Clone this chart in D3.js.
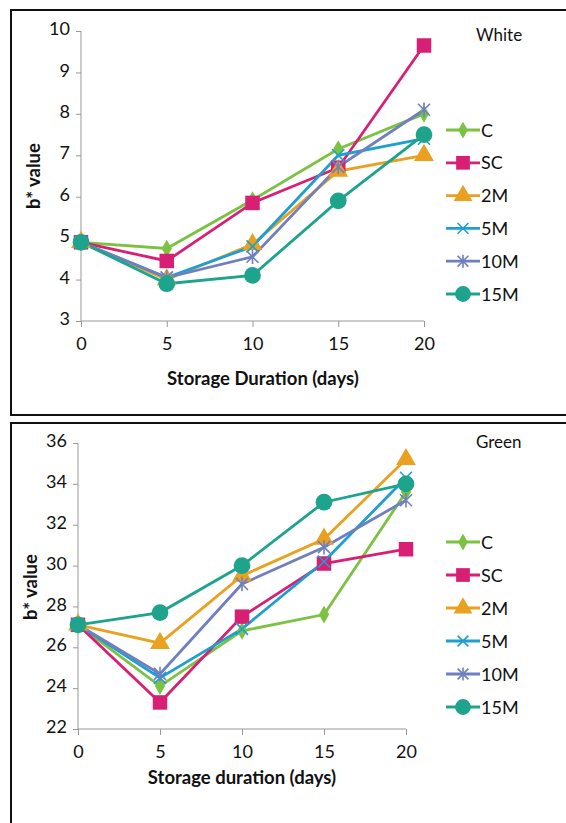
<!DOCTYPE html>
<html>
<head>
<meta charset="utf-8">
<script src="https://cdn.jsdelivr.net/npm/d3@7"></script>
<style>
  body { margin: 0; background: #fff; }
  text { font-family: Lato, "Open Sans", sans-serif; fill: #111; }
</style>
</head>
<body>
<script>
// data
var days = [0, 5, 10, 15, 20];
var seriesNames = ["C", "SC", "2M", "5M", "10M", "15M"];
var seriesColors = ["#7cc242", "#d81f74", "#e9a11f", "#1c9fd1", "#6f7fc0", "#1ea38d"];
var seriesShapes = ["diamond", "square", "triangle", "x", "star", "circle"];

var whiteC   = [4.9, 4.75, 5.92, 7.15, 8.0];
var whiteSC  = [4.9, 4.45, 5.85, 6.7, 9.65];
var white2M  = [4.9, 4.0, 4.85, 6.62, 7.0];
var white5M  = [4.9, 4.05, 4.8, 7.0, 7.4];
var white10M = [4.9, 4.05, 4.55, 6.72, 8.1];
var white15M = [4.9, 3.9, 4.1, 5.9, 7.5];
var whiteTicks = [3, 4, 5, 6, 7, 8, 9, 10];

var greenC   = [27.1, 24.1, 26.8, 27.6, 33.6];
var greenSC  = [27.1, 23.3, 27.5, 30.1, 30.8];
var green2M  = [27.1, 26.2, 29.5, 31.3, 35.2];
var green5M  = [27.1, 24.5, 26.9, 30.2, 34.3];
var green10M = [27.1, 24.7, 29.1, 30.9, 33.2];
var green15M = [27.1, 27.7, 30.0, 33.1, 34.0];
var greenTicks = [22, 24, 26, 28, 30, 32, 34, 36];

var xTicks = [0, 5, 10, 15, 20];

var svg = d3.select("body").append("svg")
            .attr("width", 566)
            .attr("height", 823);

function markerPath(shape, size) {
    if (shape == "x") {
        var s = size * 0.6;
        return "M" + (-s) + "," + (-s) + "L" + s + "," + s + "M" + (-s) + "," + s + "L" + s + "," + (-s);
    }
    if (shape == "star") {
        var s = size * 0.6;
        return "M" + (-s) + "," + (-s) + "L" + s + "," + s + "M" + (-s) + "," + s + "L" + s + "," + (-s) +
               "M0," + (-s * 1.2) + "L0," + (s * 1.2);
    }
    var sym = { diamond: d3.symbolDiamond, square: d3.symbolSquare,
                triangle: d3.symbolTriangle, circle: d3.symbolCircle }[shape];
    var area = { diamond: 90, square: 210, triangle: 170, circle: 220 }[shape];
    return d3.symbol().type(sym).size(area * size / 10)();
}

function drawMarker(g, shape, color, x, y, size) {
    var open = (shape == "x" || shape == "star");
    g.append("path")
     .attr("transform", "translate(" + x + "," + y + ")")
     .attr("d", markerPath(shape, size))
     .attr("fill", open ? "none" : color)
     .attr("stroke", color)
     .attr("stroke-width", open ? 1.6 : 0);
}

function drawPanel(cfg) {
    // frame
    svg.append("rect")
       .attr("x", 11).attr("y", cfg.boxTop)
       .attr("width", 570).attr("height", cfg.boxHeight)
       .attr("fill", "none").attr("stroke", "#111").attr("stroke-width", 2);

    var x = d3.scaleLinear().domain([0, 20]).range([cfg.x0, cfg.x1]);
    var y = d3.scaleLinear().domain(cfg.yDomain).range([cfg.yBottom, cfg.yTop]);

    var g = svg.append("g");

    // axes
    var yAxis = g.append("g")
       .attr("transform", "translate(" + cfg.x0 + ",0)")
       .call(d3.axisLeft(y).tickValues(cfg.yTicks).tickFormat(d3.format("d"))
             .tickSize(5).tickPadding(6));
    var xAxis = g.append("g")
       .attr("transform", "translate(0," + cfg.yBottom + ")")
       .call(d3.axisBottom(x).tickValues(xTicks).tickSize(6).tickPadding(10));
    [xAxis, yAxis].forEach(function(a) {
        a.select(".domain").attr("stroke", "#999");
        a.selectAll(".tick line").attr("stroke", "#999");
        a.selectAll(".tick text").style("font-size", "18px").attr("fill", "#111")
         .style("font-family", "Lato, sans-serif");
    });
    yAxis.selectAll(".tick text").attr("dy", "0.2em");
    yAxis.select(".domain").attr("d", "M0," + cfg.yBottom + "V" + cfg.yTop);
    xAxis.select(".domain").attr("d", "M" + cfg.x0 + ",0H" + cfg.x1);

    // lines
    var line = d3.line()
        .x(function(d, i) { return x(days[i]); })
        .y(function(d) { return y(d); });

    cfg.series.forEach(function(vals, k) {
        g.append("path")
         .attr("d", line(vals))
         .attr("fill", "none")
         .attr("stroke", seriesColors[k])
         .attr("stroke-width", 2.8);
    });
    cfg.series.forEach(function(vals, k) {
        vals.forEach(function(v, i) {
            drawMarker(g, seriesShapes[k], seriesColors[k], x(days[i]), y(v), 10);
        });
    });

    // legend
    seriesNames.forEach(function(name, k) {
        var ly = cfg.legendTop + k * cfg.legendStep;
        g.append("line")
         .attr("x1", 446).attr("x2", 480)
         .attr("y1", ly).attr("y2", ly)
         .attr("stroke", seriesColors[k]).attr("stroke-width", 2.8);
        drawMarker(g, seriesShapes[k], seriesColors[k], 463, ly, 9);
        g.append("text")
         .attr("x", 481).attr("y", ly + 6.5)
         .style("font-size", "18px")
         .text(name);
    });

    // panel label
    g.append("text")
     .attr("x", 476).attr("y", cfg.labelY)
     .style("font-size", "17px")
     .text(cfg.label);

    // axis titles
    g.append("text")
     .attr("x", cfg.xTitleX).attr("y", cfg.xTitleY)
     .attr("text-anchor", "middle")
     .style("font-size", "18.5px").style("font-weight", "bold")
     .text(cfg.xTitle);
    g.append("text")
     .attr("transform", "translate(" + cfg.yTitleX + "," + cfg.yTitleY + ") rotate(-90)")
     .attr("text-anchor", "middle")
     .style("font-size", "18.5px").style("font-weight", "bold")
     .text("b* value");
}

drawPanel({
    boxTop: 10, boxHeight: 405,
    x0: 81, x1: 424, yTop: 31, yBottom: 321,
    yDomain: [3, 10], yTicks: whiteTicks,
    series: [whiteC, whiteSC, white2M, white5M, white10M, white15M],
    legendTop: 130, legendStep: 32.8,
    label: "White", labelY: 41,
    xTitle: "Storage Duration (days)", xTitleX: 263, xTitleY: 385,
    yTitleX: 40, yTitleY: 176
});

drawPanel({
    boxTop: 423, boxHeight: 420,
    x0: 78, x1: 406, yTop: 443, yBottom: 729,
    yDomain: [22, 36], yTicks: greenTicks,
    series: [greenC, greenSC, green2M, green5M, green10M, green15M],
    legendTop: 542, legendStep: 33,
    label: "Green", labelY: 448,
    xTitle: "Storage duration (days)", xTitleX: 242, xTitleY: 784,
    yTitleX: 37, yTitleY: 587
});
</script>
</body>
</html>
